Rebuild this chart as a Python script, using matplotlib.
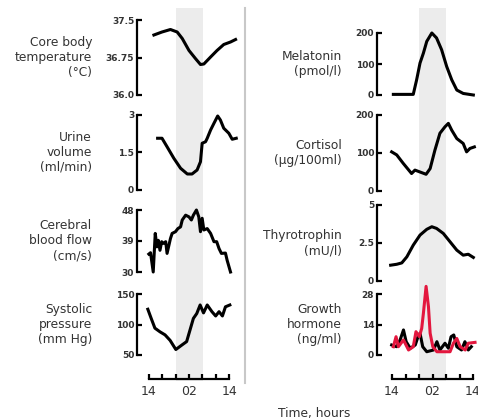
import numpy as np
import matplotlib
matplotlib.use("Agg")
import matplotlib.pyplot as plt

# hours after 14:00
temp_h = [1.6, 4.0, 6.5, 8.5, 10.0, 12.0, 13.9, 15.4, 16.4, 18.4, 20.3, 22.3, 24.3, 25.8]
temp_v = [37.2, 37.26, 37.31, 37.26, 37.13, 36.89, 36.73, 36.61, 36.62, 36.76, 36.89, 37.01, 37.06, 37.11]

urine_h = [2.7, 4.0, 5.5, 7.5, 9.5, 11.5, 12.9, 14.4, 15.4, 15.9, 16.9, 17.4, 18.4, 19.4, 20.5, 21.3, 22.3, 23.8, 24.8, 26.0]
urine_v = [2.07, 2.07, 1.73, 1.27, 0.87, 0.64, 0.64, 0.8, 1.13, 1.87, 1.93, 2.07, 2.4, 2.67, 2.96, 2.8, 2.47, 2.27, 2.03, 2.07]

cbf_h = [0.1, 0.6, 1.4, 2.0, 2.5, 2.9, 3.4, 3.9, 4.4, 5.1, 5.5, 6.5, 7.0, 8.0, 8.7, 9.5, 10.0, 11.0,
         12.0, 12.7, 13.3, 14.2, 14.9, 15.4, 15.9, 16.4, 17.4, 18.4, 19.4, 20.2, 20.9, 21.6, 22.8, 23.3, 24.3]
cbf_v = [35.2, 35.6, 30.0, 41.2, 37.3, 39.2, 36.3, 38.8, 38.3, 38.8, 35.4, 39.7, 41.2, 41.7, 42.6, 43.1, 45.1, 46.5,
         46.0, 45.1, 46.5, 48.0, 46.0, 41.7, 45.6, 42.2, 42.6, 41.2, 38.8, 38.8, 36.8, 35.4, 35.5, 33.4, 30.0]

sys_h = [-0.2, 0.8, 1.9, 3.4, 4.9, 6.4, 8.1, 9.8, 11.3, 12.3, 13.3, 14.3, 15.3, 16.3, 17.4, 18.8, 19.9, 20.9, 21.9, 22.8, 24.1]
sys_v = [125, 110, 94, 88, 83, 74, 59, 66, 72, 91, 110, 118, 132, 119, 132, 121, 114, 121, 114, 129, 132]

mel_h = [0.4, 6.3, 7.3, 8.3, 9.3, 10.3, 11.8, 13.2, 14.7, 16.2, 17.7, 19.2, 21.1, 24.1]
mel_v = [2, 2, 49, 103, 135, 173, 200, 184, 146, 92, 49, 16, 5, 0]

cort_h = [-0.1, 1.4, 3.3, 5.8, 6.8, 8.3, 10.1, 11.3, 12.7, 14.2, 15.7, 16.7, 17.7, 19.2, 21.1, 22.1, 23.1, 24.4]
cort_v = [103, 95, 73, 46, 55, 50, 44, 59, 107, 152, 169, 178, 160, 138, 125, 103, 112, 116]

tsh_h = [-0.4, 1.4, 2.9, 4.4, 6.3, 8.3, 10.3, 11.8, 13.2, 15.2, 17.2, 19.2, 21.1, 22.6, 24.1]
tsh_v = [1.04, 1.1, 1.19, 1.59, 2.36, 3.02, 3.4, 3.57, 3.46, 3.13, 2.58, 2.03, 1.7, 1.76, 1.55]

gh_red_h = [0.4, 1.2, 1.9, 3.4, 4.9, 6.3, 7.1, 8.1, 8.8, 9.3, 10.1, 10.8, 11.3, 12.1, 13.3, 17.2, 18.2, 19.2, 20.2, 21.7, 22.6, 24.6]
gh_red_v = [3.8, 8.4, 3.8, 6.9, 2.3, 3.8, 10.7, 8.4, 12.2, 19.1, 31.5, 22.2, 10.0, 3.8, 1.5, 1.5, 5.4, 7.6, 3.8, 2.3, 5.4, 5.8]
gh_blk_h = [-0.1, 1.4, 2.4, 3.4, 4.2, 5.4, 6.9, 7.7, 8.3, 9.1, 10.3, 12.3, 13.3, 14.2, 15.7, 16.7, 17.5, 18.3, 19.2, 20.6, 21.6, 22.6, 23.5]
gh_blk_v = [4.6, 3.8, 6.9, 11.5, 6.1, 3.1, 4.6, 8.4, 10.0, 3.8, 1.5, 2.3, 6.1, 2.3, 5.4, 3.1, 8.4, 9.2, 3.8, 2.3, 6.1, 2.3, 3.8]

time_ticks = [0, 4, 8, 12, 16, 20, 24]
time_labels = ["14", "", "", "02", "", "", "14"]
night = (8, 16)

W, H = 478, 420
fig = plt.figure(figsize=(W / 100, H / 100), dpi=100)
txt = "#333333"
px = 3.375  # pixels per hour


def box(x0, y0, x1, y1):
    return [x0 / W, 1 - y1 / H, (x1 - x0) / W, (y1 - y0) / H]


def column(x0, x1, x14, panels, label_x):
    xlim = ((x0 - x14) / px, (x1 - x14) / px)
    bg = fig.add_axes(box(x0, 8, x1, 381), zorder=0)
    bg.set_xlim(xlim)
    bg.axvspan(*night, color="#ececec", lw=0)
    bg.axis("off")
    for p in panels:
        ax = fig.add_axes(box(x0, p["top"], x1, p["bot"]), zorder=2)
        ax.patch.set_alpha(0)
        for xs, ys, c in p["lines"]:
            ax.plot(xs, ys, color=c, lw=2.2, clip_on=False, solid_joinstyle="round")
        ax.set_xlim(xlim)
        ax.set_ylim(p["ticks"][0], p["ticks"][-1])
        for s in ["top", "right", "bottom"]:
            ax.spines[s].set_visible(False)
        ax.spines["left"].set_linewidth(1.6)
        ax.set_xticks([])
        ax.set_yticks(p["ticks"])
        ax.set_yticklabels(p["tick_labels"], fontsize=6.5, fontweight="bold", color=txt)
        ax.tick_params(axis="y", direction="in", length=3.5, width=1.6, pad=2)
        ymid = (p["top"] + p["bot"]) / 2
        fig.text(label_x / W, 1 - ymid / H, p["label"], ha="right", va="center",
                 multialignment="right", fontsize=8.8, color=txt, linespacing=1.2)
    tax = fig.add_axes(box(x0, 370, x1, 379), zorder=2)
    tax.patch.set_alpha(0)
    tax.set_xlim(xlim)
    for s in ["top", "right", "left"]:
        tax.spines[s].set_visible(False)
    tax.spines["bottom"].set_bounds(0, 24)
    tax.spines["bottom"].set_linewidth(1.6)
    tax.set_yticks([])
    tax.set_xticks(time_ticks)
    tax.set_xticklabels(time_labels, fontsize=9, color=txt)
    tax.tick_params(axis="x", direction="in", length=3.5, width=1.6, pad=4)


left = [
    dict(top=20, bot=95, ticks=[36.0, 36.75, 37.5], tick_labels=["36.0", "36.75", "37.5"],
         label="Core body\ntemperature\n(°C)", lines=[(temp_h, temp_v, "black")]),
    dict(top=115, bot=190, ticks=[0, 1.5, 3], tick_labels=["0", "1.5", "3"],
         label="Urine\nvolume\n(ml/min)", lines=[(urine_h, urine_v, "black")]),
    dict(top=210, bot=272, ticks=[30, 39, 48], tick_labels=["30", "39", "48"],
         label="Cerebral\nblood flow\n(cm/s)", lines=[(cbf_h, cbf_v, "black")]),
    dict(top=294, bot=355, ticks=[50, 100, 150], tick_labels=["50", "100", "150"],
         label="Systolic\npressure\n(mm Hg)", lines=[(sys_h, sys_v, "black")]),
]
right = [
    dict(top=33, bot=95, ticks=[0, 100, 200], tick_labels=["0", "100", "200"],
         label="Melatonin\n(pmol/l)", lines=[(mel_h, mel_v, "black")]),
    dict(top=115, bot=191, ticks=[0, 100, 200], tick_labels=["0", "100", "200"],
         label="Cortisol\n(µg/100ml)", lines=[(cort_h, cort_v, "black")]),
    dict(top=205, bot=281, ticks=[0, 2.5, 5], tick_labels=["0", "2.5", "5"],
         label="Thyrotrophin\n(mU/l)", lines=[(tsh_h, tsh_v, "black")]),
    dict(top=294, bot=355, ticks=[0, 14, 28], tick_labels=["0", "14", "28"],
         label="Growth\nhormone\n(ng/ml)", lines=[(gh_blk_h, gh_blk_v, "black"), (gh_red_h, gh_red_v, "#e3173e")]),
]

column(137, 241, 148.5, left, 92)
column(377, 478, 392, right, 342)

fig.add_artist(plt.Line2D([245 / W, 245 / W], [1 - 8 / H, 1 - 383 / H], color="#c8c8c8", lw=1.5))
fig.text(314 / W, 1 - 413 / H, "Time, hours", ha="center", va="center", fontsize=8.8, color=txt)

fig.savefig("out.png", dpi=100)
